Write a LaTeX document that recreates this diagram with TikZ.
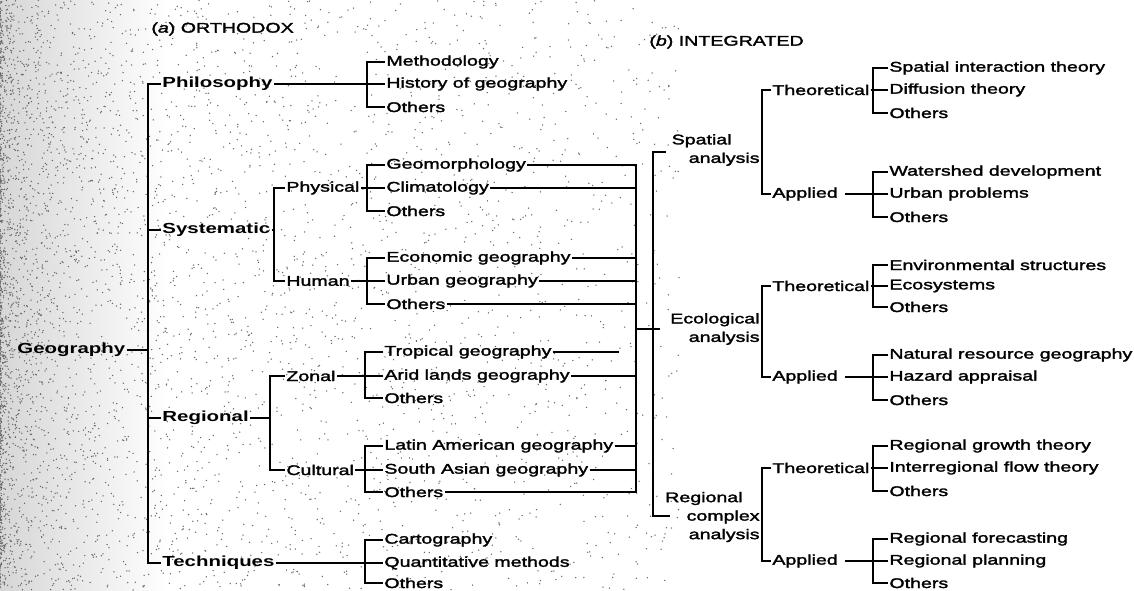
\documentclass[tikz,border=0pt]{standalone}
\usepackage{fontspec}
\setmainfont{Liberation Sans}[FakeStretch=1.4,FakeBold=2]
\newfontfamily\topf{Liberation Sans Bold}[FakeStretch=1.4]
\begin{document}
\begin{tikzpicture}[x=1pt,y=-1pt,
  lbl/.style={anchor=west,inner sep=1.2pt,font=\fontsize{14}{19}\selectfont},
  toplbl/.style={anchor=west,inner sep=1.2pt,font=\topf\fontsize{14.6}{19}\selectfont},
  grp/.style={anchor=east,align=right,inner sep=1.2pt,font=\fontsize{14}{18.5}\selectfont},
  conn/.style={draw=black,line width=1.5pt},
  mainconn/.style={draw=black,line width=2.3pt}]
\useasboundingbox (0,0) rectangle (1134,590);
\fill[white] (0,0) rectangle (1134,590);
% stippled scan background
\shade[left color=black!16,right color=white] (0,0) rectangle (170,590);
\pgfmathsetseed{11}
\foreach \i in {1,...,4500}{
  \pgfmathsetmacro\rx{680*pow(rnd,2.6)}
  \pgfmathsetmacro\ry{590*rnd}
  \fill[black!60] (\rx,\ry) circle[radius=0.75];
}
% ---------- titles
\node[lbl] (ta) at (150,29) {(\textit{a}) ORTHODOX};
\node[lbl] (tb) at (648,42) {(\textit{b}) INTEGRATED};
% ---------- bracket x positions
\coordinate (bM) at (148,0);
\coordinate (bS) at (274,0);
\coordinate (bR) at (270,0);
\coordinate (bP) at (367,0);
\coordinate (bPh) at (367,0);
\coordinate (bHu) at (367,0);
\coordinate (bZ) at (365,0);
\coordinate (bC) at (365,0);
\coordinate (bT) at (365,0);
\coordinate (bV1) at (636,0);
\coordinate (bV2) at (653,0);
\coordinate (bX) at (762,0);
\coordinate (bY) at (873,0);
% ---------- orthodox tree
\node[toplbl] (geog) at (16,350) {Geography};
\node[toplbl] (phil) at (161,84) {Philosophy};
\node[toplbl] (syst) at (161,230) {Systematic};
\node[toplbl] (regi) at (161,418) {Regional};
\node[toplbl] (tech) at (161,563) {Techniques};
\node[lbl] (phys) at (285,188) {Physical};
\node[lbl] (huma) at (285,281) {Human};
\node[lbl] (zona) at (285,376) {Zonal};
\node[lbl] (cult) at (285,470) {Cultural};
\node[lbl] (meth) at (385,62) {Methodology};
\node[lbl] (hist) at (385,84) {History of geography};
\node[lbl] (oph) at (385,107) {Others};
\node[lbl] (geom) at (385,165) {Geomorphology};
\node[lbl] (clim) at (385,188) {Climatology};
\node[lbl] (oph2) at (385,211) {Others};
\node[lbl] (econ) at (385,258) {Economic geography};
\node[lbl] (urb) at (385,281) {Urban geography};
\node[lbl] (ohu) at (385,304) {Others};
\node[lbl] (trop) at (383,352) {Tropical geography};
\node[lbl] (arid) at (383,376) {Arid lands geography};
\node[lbl] (ozo) at (383,398) {Others};
\node[lbl] (lat) at (383,446) {Latin American geography};
\node[lbl] (sas) at (383,470) {South Asian geography};
\node[lbl] (ocu) at (383,492) {Others};
\node[lbl] (cart) at (383,540) {Cartography};
\node[lbl] (quan) at (383,563) {Quantitative methods};
\node[lbl] (ote) at (383,583) {Others};
% main trunk
\draw[mainconn] (phil.west) -- (phil.west -| bM) -- (tech.west -| bM) -- (tech.west);
\draw[conn] (syst.west) -- (syst.west -| bM);
\draw[conn] (regi.west) -- (regi.west -| bM);
\draw[conn] (geog.east) -- (geog.east -| bM);
% philosophy
\draw[conn] (phil.east) -- (phil.east -| bP);
\draw[conn] (meth.west) -- (meth.west -| bP) -- (oph.west -| bP) -- (oph.west);
\draw[conn] (hist.west) -- (hist.west -| bP);
% systematic
\draw[conn] (syst.east) -- (syst.east -| bS);
\draw[mainconn] (phys.west) -- (phys.west -| bS) -- (huma.west -| bS) -- (huma.west);
\draw[conn] (phys.east) -- (phys.east -| bPh);
\draw[conn] (geom.west) -- (geom.west -| bPh) -- (oph2.west -| bPh) -- (oph2.west);
\draw[conn] (clim.west) -- (clim.west -| bPh);
\draw[conn] (huma.east) -- (huma.east -| bHu);
\draw[conn] (econ.west) -- (econ.west -| bHu) -- (ohu.west -| bHu) -- (ohu.west);
\draw[conn] (urb.west) -- (urb.west -| bHu);
% regional
\draw[conn] (regi.east) -- (regi.east -| bR);
\draw[mainconn] (zona.west) -- (zona.west -| bR) -- (cult.west -| bR) -- (cult.west);
\draw[conn] (zona.east) -- (zona.east -| bZ);
\draw[conn] (trop.west) -- (trop.west -| bZ) -- (ozo.west -| bZ) -- (ozo.west);
\draw[conn] (arid.west) -- (arid.west -| bZ);
\draw[conn] (cult.east) -- (cult.east -| bC);
\draw[conn] (lat.west) -- (lat.west -| bC) -- (ocu.west -| bC) -- (ocu.west);
\draw[conn] (sas.west) -- (sas.west -| bC);
% techniques
\draw[conn] (tech.east) -- (tech.east -| bT);
\draw[conn] (cart.west) -- (cart.west -| bT) -- (ote.west -| bT) -- (ote.west);
\draw[conn] (quan.west) -- (quan.west -| bT);
% ---------- links to integrated scheme
\coordinate (tropend) at (619,352);
\draw[conn] (trop.east) -- (tropend);
\draw[conn] (geom.east) -- (geom.east -| bV1) -- (ocu.east -| bV1) -- (ocu.east);
\foreach \n in {clim,econ,urb,ohu,arid,lat,sas}{
  \draw[conn] (\n.east) -- (\n.east -| bV1);
}
\coordinate (jn) at (636,329);
\coordinate (jnend) at (660,329);
\draw[conn] (jn) -- (jnend);
% ---------- integrated tree
\node[grp] (spat) at (761,150) {Spatial\hspace*{28pt}\\analysis};
\node[grp] (ecol) at (761,329) {Ecological\\analysis};
\node[grp] (rca) at (761,517) {Regional\hspace*{17pt}\\complex\\analysis};
\coordinate (v2top) at (653,152);
\coordinate (v2topend) at (666,152);
\coordinate (v2bot) at (653,516);
\coordinate (v2botend) at (670,516);
\draw[mainconn] (v2topend) -- (v2top) -- (v2bot) -- (v2botend);
% spatial analysis
\node[lbl] (sth) at (771,90) {Theoretical};
\node[lbl] (sap) at (771,194) {Applied};
\node[lbl] (s1) at (888,68) {Spatial interaction theory};
\node[lbl] (s2) at (888,90) {Diffusion theory};
\node[lbl] (s3) at (888,113) {Others};
\node[lbl] (s4) at (888,172) {Watershed development};
\node[lbl] (s5) at (888,194) {Urban problems};
\node[lbl] (s6) at (888,217) {Others};
\draw[conn] (sth.west) -- (sth.west -| bX) -- (sap.west -| bX) -- (sap.west);
\draw[conn] (sth.east) -- (sth.east -| bY);
\draw[conn] (s1.west) -- (s1.west -| bY) -- (s3.west -| bY) -- (s3.west);
\draw[conn] (s2.west) -- (s2.west -| bY);
\draw[conn] ([xshift=6pt]sap.east) -- (sap.east -| bY);
\draw[conn] (s4.west) -- (s4.west -| bY) -- (s6.west -| bY) -- (s6.west);
\draw[conn] (s5.west) -- (s5.west -| bY);
% ecological analysis
\node[lbl] (eth) at (771,286) {Theoretical};
\node[lbl] (eap) at (771,377) {Applied};
\node[lbl] (e1) at (888,265) {Environmental structures};
\node[lbl] (e2) at (888,286) {Ecosystems};
\node[lbl] (e3) at (888,307) {Others};
\node[lbl] (e4) at (888,355) {Natural resource geography};
\node[lbl] (e5) at (888,377) {Hazard appraisal};
\node[lbl] (e6) at (888,400) {Others};
\draw[conn] (eth.west) -- (eth.west -| bX) -- (eap.west -| bX) -- (eap.west);
\draw[conn] (eth.east) -- (eth.east -| bY);
\draw[conn] (e1.west) -- (e1.west -| bY) -- (e3.west -| bY) -- (e3.west);
\draw[conn] (e2.west) -- (e2.west -| bY);
\draw[conn] ([xshift=6pt]eap.east) -- (eap.east -| bY);
\draw[conn] (e4.west) -- (e4.west -| bY) -- (e6.west -| bY) -- (e6.west);
\draw[conn] (e5.west) -- (e5.west -| bY);
% regional complex analysis
\node[lbl] (rth) at (771,468) {Theoretical};
\node[lbl] (rap) at (771,561) {Applied};
\node[lbl] (r1) at (888,446) {Regional growth theory};
\node[lbl] (r2) at (888,468) {Interregional flow theory};
\node[lbl] (r3) at (888,491) {Others};
\node[lbl] (r4) at (888,539) {Regional forecasting};
\node[lbl] (r5) at (888,561) {Regional planning};
\node[lbl] (r6) at (888,583) {Others};
\draw[conn] (rth.west) -- (rth.west -| bX) -- (rap.west -| bX) -- (rap.west);
\draw[conn] (rth.east) -- (rth.east -| bY);
\draw[conn] (r1.west) -- (r1.west -| bY) -- (r3.west -| bY) -- (r3.west);
\draw[conn] (r2.west) -- (r2.west -| bY);
\draw[conn] ([xshift=6pt]rap.east) -- (rap.east -| bY);
\draw[conn] (r4.west) -- (r4.west -| bY) -- (r6.west -| bY) -- (r6.west);
\draw[conn] (r5.west) -- (r5.west -| bY);
\end{tikzpicture}
\end{document}
